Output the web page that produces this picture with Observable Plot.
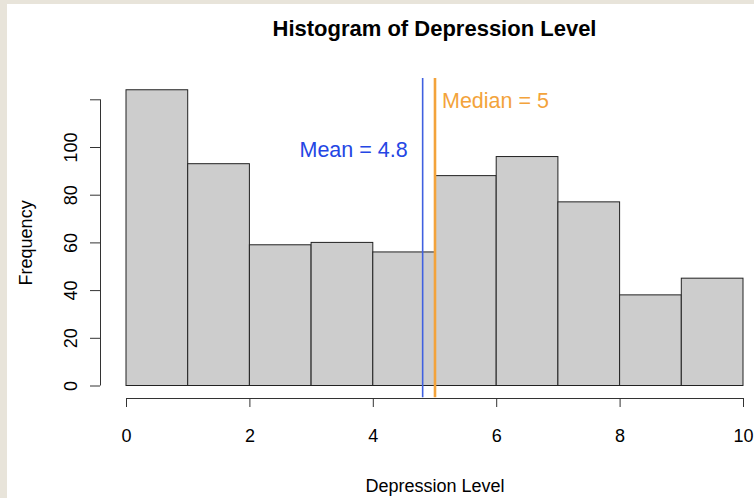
<!DOCTYPE html>
<html>
<head>
<meta charset="utf-8">
<script src="https://cdn.jsdelivr.net/npm/d3@7"></script>
<script src="https://cdn.jsdelivr.net/npm/@observablehq/plot@0.6"></script>
<style>
  html, body { margin: 0; padding: 0; }
  body { width: 754px; height: 498px; overflow: hidden; background: #e8e4da; font-family: "Liberation Sans", Arial, Helvetica, sans-serif; }
  #page { position: relative; width: 754px; height: 498px; }
  #inner { position: absolute; left: 7px; top: 4px; right: 0; bottom: 0; background: #ffffff; }
  #title { position: absolute; left: 126px; width: 617px; top: 18px; text-align: center; font-weight: bold; font-size: 22px; line-height: 22px; color: #000; }
  #chart { position: absolute; left: 0; top: 50px; }
  #chart svg { background: transparent !important; }
</style>
</head>
<body>
<div id="page">
  <div id="inner"></div>
  <div id="title">Histogram of Depression Level</div>
  <div id="chart"></div>
</div>
<script>
// Histogram bins (Depression Level) and counts (Frequency)
const binStarts = [0, 1, 2, 3, 4, 5, 6, 7, 8, 9];
const binEnds   = [1, 2, 3, 4, 5, 6, 7, 8, 9, 10];
const counts    = [124, 93, 59, 60, 56, 88, 96, 77, 38, 45];

// Axis ticks
const xTicks = [0, 2, 4, 6, 8, 10];
const yTicks = [0, 20, 40, 60, 80, 100, 120];
const yTickLabels = ["0", "20", "40", "60", "80", "100", ""];

// Summary statistics
const meanValue = 4.8;
const medianValue = 5;
const meanLabel = "Mean = 4.8";
const medianLabel = "Median = 5";
const meanLabelY = 99;
const medianLabelY = 119.5;

const bins = binStarts.map((s, i) => ({x1: s, x2: binEnds[i], count: counts[i]}));
const maxCount = d3.max(counts);
const regionLow = -0.04 * maxCount;   // R plot region (usr) extends 4%
const regionHigh = 1.04 * maxCount;

const blueText = "#2446e4";
const blueLine = "#3f60e0";
const orange = "#f3a33b";

const chart = Plot.plot({
  width: 754,
  height: 448,
  marginLeft: 126,
  marginRight: 11,
  marginTop: 49.3,
  marginBottom: 112.5,
  style: {fontFamily: '"Liberation Sans", Arial, Helvetica, sans-serif', background: "transparent", color: "#000"},
  x: {domain: [0, 10]},
  y: {domain: [0, 120]},
  marks: [
    Plot.rectY(bins, {x1: "x1", x2: "x2", y: "count", fill: "#cdcdcd", stroke: "#222", strokeWidth: 1}),
    // mean & median lines
    Plot.ruleX([meanValue], {y1: regionLow, y2: regionHigh, stroke: blueLine, strokeWidth: 1.6}),
    Plot.ruleX([medianValue], {y1: regionLow, y2: regionHigh, stroke: orange, strokeWidth: 2.6}),
    Plot.text([meanLabel], {x: meanValue, y: meanLabelY, dx: -15, textAnchor: "end", lineAnchor: "middle", fill: blueText, fontSize: 21.5}),
    Plot.text([medianLabel], {x: medianValue, y: medianLabelY, dx: 7, textAnchor: "start", lineAnchor: "middle", fill: orange, fontSize: 21.5}),
    // x axis (offset below bars, R style)
    Plot.ruleY([0], {x1: xTicks[0], x2: xTicks[xTicks.length - 1], dy: 12.5, stroke: "#333", strokeWidth: 1}),
    Plot.axisX({ticks: xTicks, tickSize: 9, dy: 12.5, tickPadding: 22, fontSize: 18, label: null, stroke: "#333", tickFormat: d => String(d)}),
    // y axis (offset left of bars)
    Plot.ruleX([0], {y1: yTicks[0], y2: yTicks[yTicks.length - 1], dx: -26, stroke: "#333", strokeWidth: 1}),
    Plot.axisY({ticks: yTicks, tickSize: 10, dx: -26, tickFormat: () => "", label: null, stroke: "#333"}),
    Plot.text(yTicks, {y: d => d, text: (d, i) => yTickLabels[i], frameAnchor: "left", dx: -49.5, rotate: -90, textAnchor: "middle", lineAnchor: "bottom", fontSize: 18, fill: "#000"}),
    // axis titles
    Plot.text(["Frequency"], {frameAnchor: "left", dx: -94.5, rotate: -90, textAnchor: "middle", lineAnchor: "bottom", fontSize: 18, fill: "#000"}),
    Plot.text(["Depression Level"], {frameAnchor: "bottom", dy: 106.2, textAnchor: "middle", lineAnchor: "bottom", fontSize: 18, fill: "#000"})
  ]
});
document.getElementById("chart").appendChild(chart);
</script>
</body>
</html>
